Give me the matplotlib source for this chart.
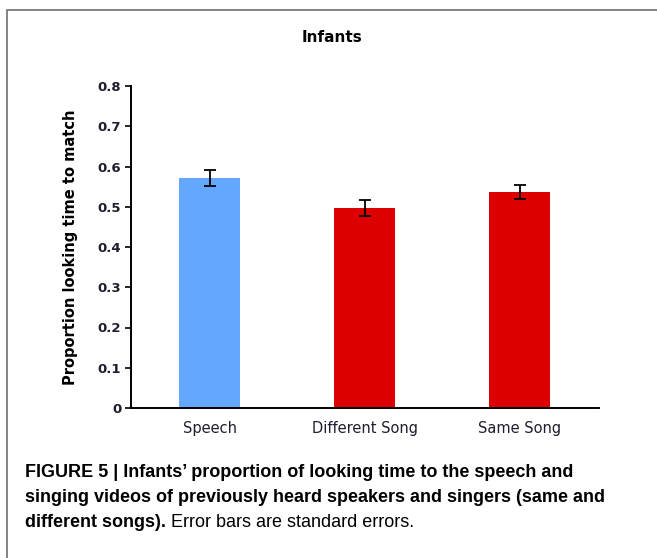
import matplotlib
matplotlib.use("Agg")
import matplotlib.pyplot as plt
from matplotlib.patches import Rectangle
from matplotlib import font_manager

categories = ["Speech", "Different Song", "Same Song"]
means = [0.571, 0.498, 0.537]
errors = [0.02, 0.02, 0.017]
bar_colors = ["#63A7FF", "#DD0000", "#DD0000"]
yticks = [0, 0.1, 0.2, 0.3, 0.4, 0.5, 0.6, 0.7, 0.8]
ytick_labels = ["0", "0.1", "0.2", "0.3", "0.4", "0.5", "0.6", "0.7", "0.8"]

names = {f.name for f in font_manager.fontManager.ttflist}
cap_font = "Liberation Sans Narrow" if "Liberation Sans Narrow" in names else "Liberation Sans"
txt_col = "#1e1e2e"

fig = plt.figure(figsize=(6.57, 5.58), dpi=100)
ax = fig.add_axes([131 / 657, 150 / 558, 468 / 657, 322 / 558])

x = list(range(len(categories)))
ax.bar(x, means, width=0.393, color=bar_colors, yerr=errors,
       error_kw=dict(ecolor="black", elinewidth=1.3, capsize=4.5, capthick=1.3))

ax.set_xlim(-0.506, 2.509)
ax.set_ylim(0, 0.8)
ax.set_yticks(yticks)
ax.set_yticklabels(ytick_labels, fontweight="bold", color=txt_col)
ax.set_xticks(x)
ax.set_xticklabels(categories, color=txt_col)
ax.tick_params(axis="y", direction="out", length=4, width=1.2, labelsize=9.5, pad=3)
ax.tick_params(axis="x", length=0, labelsize=10.5, pad=9)
for s in ["top", "right"]:
    ax.spines[s].set_visible(False)
for s in ["left", "bottom"]:
    ax.spines[s].set_linewidth(1.4)
ax.set_ylabel("Proportion looking time to match", fontsize=10.5, fontweight="bold")
ax.yaxis.set_label_coords(-(131 - 78) / 468, 0.5)
fig.text(332 / 657, 1 - 37 / 558, "Infants", fontsize=11, fontweight="bold",
         ha="center", va="center")

# outer frame
fig.patches.append(Rectangle((7 / 657, -0.1), 1.0, (558 - 10) / 558 + 0.1,
                             transform=fig.transFigure, fill=False,
                             edgecolor="#7a7a7a", lw=1.3))

# caption
cap_kw = dict(fontsize=13, family=cap_font, va="baseline", ha="left")
fig.text(25 / 657, 1 - 477 / 558,
         "FIGURE 5 | Infants\u2019 proportion of looking time to the speech and",
         fontweight="bold", **cap_kw)
fig.text(25 / 657, 1 - 502 / 558,
         "singing videos of previously heard speakers and singers (same and",
         fontweight="bold", **cap_kw)
t = fig.text(25 / 657, 1 - 527 / 558, "different songs).", fontweight="bold", **cap_kw)
ax.annotate(" Error bars are standard errors.", xy=(1, 0), xycoords=t,
            fontsize=13, family=cap_font, va="bottom", ha="left")

fig.savefig("out.png", dpi=100)
